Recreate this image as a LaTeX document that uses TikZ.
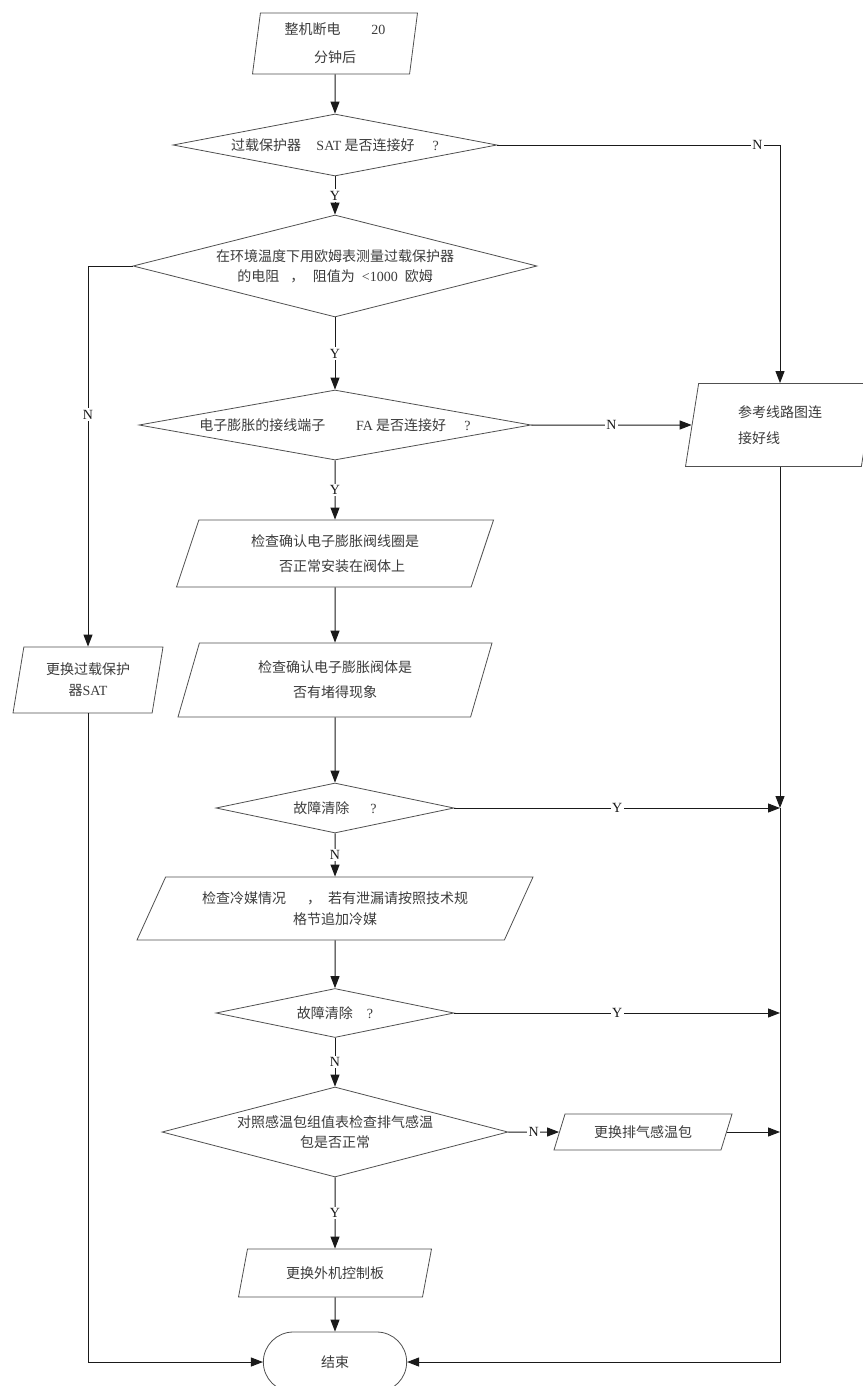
\documentclass[tikz,border=0pt]{standalone}
\usepackage{fontspec}
\setmainfont{Liberation Serif}
\newfontfamily\cjk{Noto Sans CJK SC}
\usetikzlibrary{arrows.meta,shapes.geometric,shapes.misc,calc}
\definecolor{ink}{HTML}{1A1A1A}
\definecolor{txtgray}{HTML}{3C3C3C}
\definecolor{edgegray}{HTML}{505050}
\newcommand{\lat}[1]{{\rmfamily #1}}
\tikzset{
  procbox/.style={draw=edgegray,fill=white,line width=0.8pt,
                  trapezium,trapezium stretches body,
                  trapezium left angle=#1,trapezium right angle={180-#1},
                  inner sep=2pt,align=center,text=txtgray,
                  font=\cjk\fontsize{14}{21}\selectfont},
  decision/.style={draw=edgegray,fill=white,line width=0.8pt,diamond,
                   inner sep=0pt,align=center,text=txtgray,
                   font=\cjk\fontsize{14}{20}\selectfont},
  endcap/.style={draw=edgegray,fill=white,line width=0.8pt,rounded rectangle,
                 minimum width=150pt,minimum height=60pt,text=txtgray,
                 font=\cjk\fontsize{14}{20}\selectfont},
  flowarr/.style={-{Triangle[length=12pt,width=9pt]},line width=1pt,color=ink},
  yn/.style={fill=white,inner sep=1.5pt,text=ink,font=\fontsize{14}{14}\selectfont}
}

\begin{document}
\begin{tikzpicture}[x=1pt,y=-1pt]
  \useasboundingbox (0,0) rectangle (862,1386);

  % main column
  \node[procbox=80,minimum width=165pt,minimum height=61pt] (start) at (335,43.5)
    {整机断电\hspace{2.2em}\lat{20}\\[7pt]分钟后\hspace{0.8em}};
  \node[decision,minimum width=324pt,minimum height=62pt,aspect=5.2] (d1) at (335,145)
    {过载保护器\hspace{1.1em}\lat{SAT} 是否连接好\hspace{1.3em}\lat{?}};
  \node[decision,minimum width=404pt,minimum height=102pt,aspect=3.96] (d2) at (335,266)
    {在环境温度下用欧姆表测量过载保护器\\的电阻\hspace{0.8em}，\hspace{0.6em}阻值为\hspace{0.5em}\lat{<1000}\hspace{0.5em}欧姆};
  \node[decision,minimum width=392pt,minimum height=70pt,aspect=5.6] (d3) at (335,425)
    {电子膨胀的接线端子\hspace{2.2em}\lat{FA} 是否连接好\hspace{1.3em}\lat{?}};
  \node[procbox=62,minimum width=317pt,minimum height=67pt] (chkcoil) at (335,553.5)
    {检查确认电子膨胀阀线圈是\\[4pt]\hspace{1em}否正常安装在阀体上};
  \node[procbox=63,minimum width=314pt,minimum height=74pt] (chkbody) at (335,680)
    {检查确认电子膨胀阀体是\\[4pt]否有堵得现象};
  \node[decision,minimum width=238pt,minimum height=50pt,aspect=4.76] (d4) at (335,808)
    {故障清除\hspace{1.5em}\lat{?}};
  \node[procbox=53,minimum width=396pt,minimum height=63pt] (chkgas) at (335,908.5)
    {检查冷媒情况\hspace{1.5em}，\hspace{0.5em}若有泄漏请按照技术规\\格节追加冷媒};
  \node[decision,minimum width=238pt,minimum height=49pt,aspect=4.8] (d5) at (335,1013)
    {故障清除\hspace{1em}\lat{?}};
  \node[decision,minimum width=346pt,minimum height=90pt,aspect=3.84] (d6) at (335,1132)
    {对照感温包组值表检查排气感温\\包是否正常};
  \node[procbox=62,minimum width=193pt,minimum height=48pt] (newboard) at (335,1273)
    {更换外机控制板};
  \node[endcap] (term) at (335,1362) {结束};

  % side boxes
  \node[procbox=74,minimum width=150pt,minimum height=66pt] (newsat) at (88,680)
    {更换过载保护\\器\lat{SAT}};
  \node[procbox=73,minimum width=189pt,minimum height=83pt,align=left] (rewire) at (780,425)
    {参考线路图连\\[5pt]接好线};
  \node[procbox=57,minimum width=178pt,minimum height=36pt] (newsensor) at (643,1132)
    {更换排气感温包};

  \coordinate (j1) at (rewire.south |- d4.east);
  \coordinate (j2) at (rewire.south |- term.east);

  % main flow
  \draw[flowarr] (start.south) -- (d1.north);
  \draw[flowarr] (d1.south) -- node[yn] {Y} (d2.north);
  \draw[flowarr] (d2.south) -- node[yn] {Y} (d3.north);
  \draw[flowarr] (d3.south) -- node[yn] {Y} (chkcoil.north);
  \draw[flowarr] (chkcoil.south) -- (chkbody.north);
  \draw[flowarr] (chkbody.south) -- (d4.north);
  \draw[flowarr] (d4.south) -- node[yn] {N} (chkgas.north);
  \draw[flowarr] (chkgas.south) -- (d5.north);
  \draw[flowarr] (d5.south) -- node[yn] {N} (d6.north);
  \draw[flowarr] (d6.south) -- node[yn] {Y} (newboard.north);
  \draw[flowarr] (newboard.south) -- (term.north);

  % branches
  \draw[flowarr] (d1.east) -- node[yn,pos=0.92] {N} (d1.east -| rewire.north) -- (rewire.north);
  \draw[flowarr] (d2.west) -- (d2.west -| newsat.north) -- node[yn,pos=0.39] {N} (newsat.north);
  \draw[flowarr] (d3.east) -- node[yn] {N} (rewire.west);
  \draw[flowarr] (d4.east) -- node[yn] {Y} (j1);
  \draw[flowarr] (rewire.south) -- (j1);
  \draw[flowarr] (j1) -- (j2) -- (term.east);
  \draw[flowarr] (d5.east) -- node[yn] {Y} (d5.east -| j1);
  \draw[flowarr] (d6.east) -- node[yn] {N} (newsensor.west);
  \draw[flowarr] (newsensor.east) -- (newsensor.east -| j1);
  \draw[flowarr] (newsat.south) -- (newsat.south |- term.west) -- (term.west);
\end{tikzpicture}
\end{document}
